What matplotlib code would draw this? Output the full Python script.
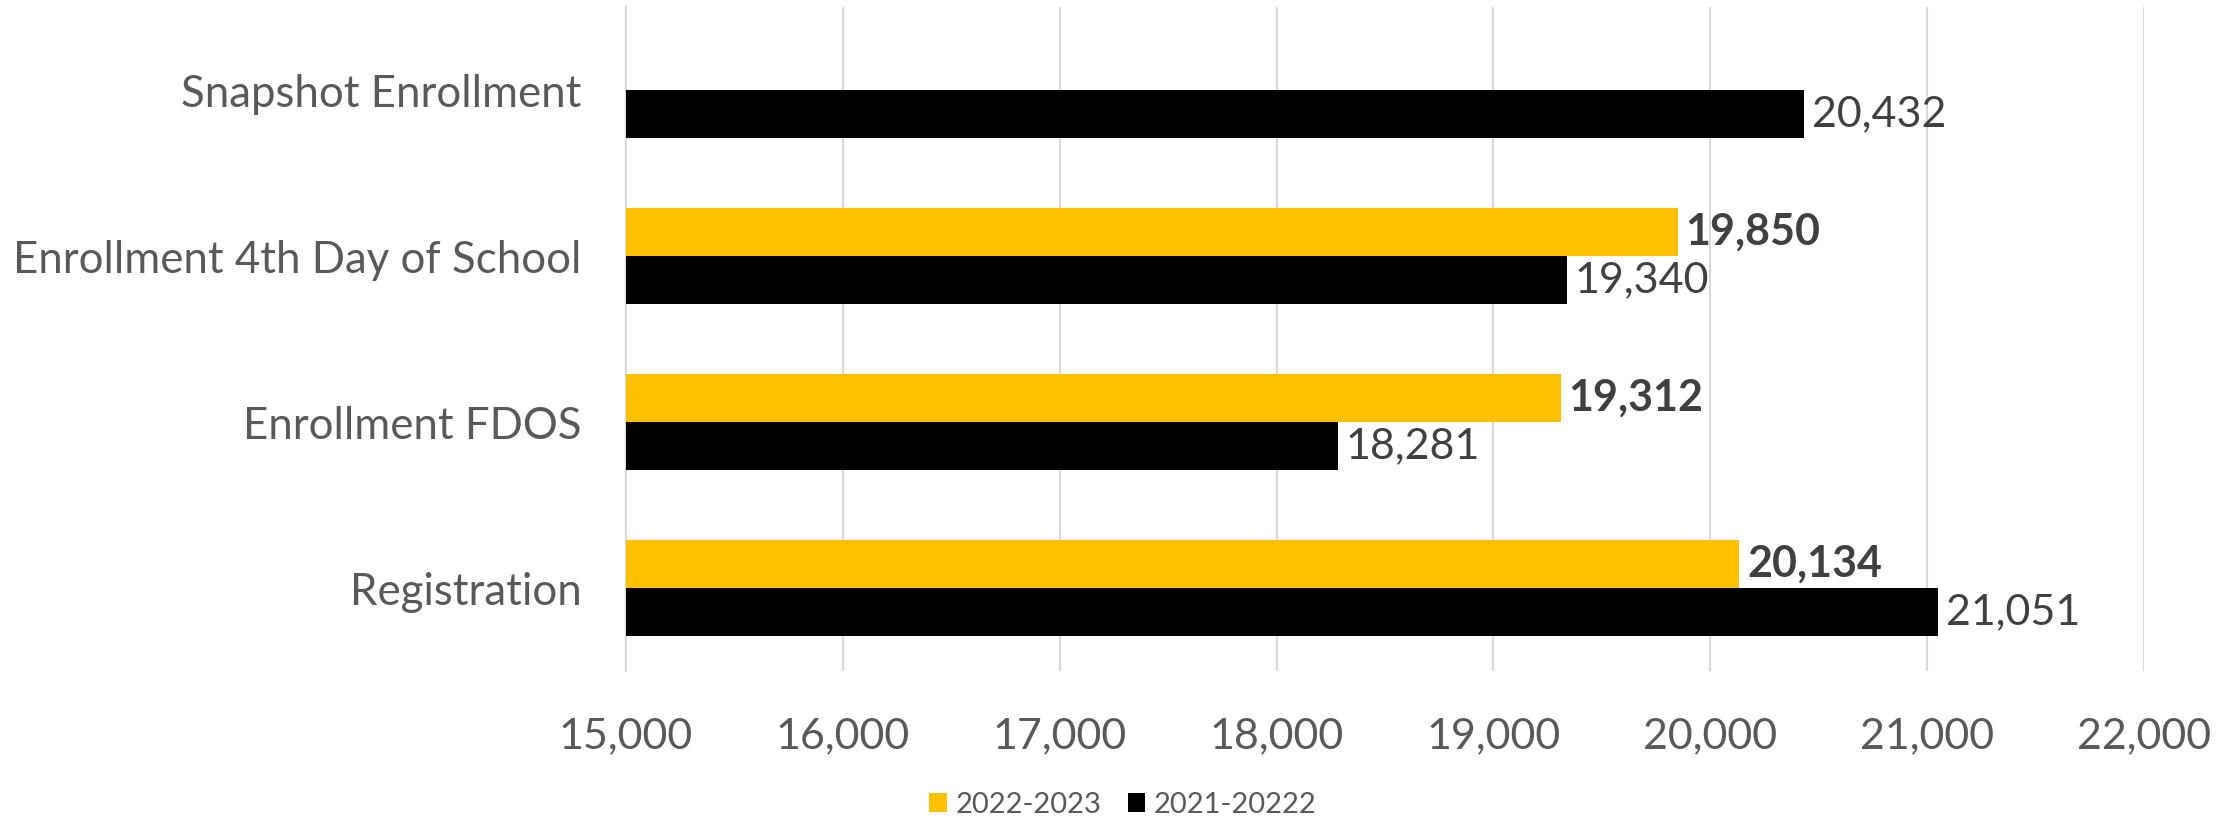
import numpy as np
import matplotlib
matplotlib.use("Agg")
import matplotlib.pyplot as plt
from matplotlib.ticker import FuncFormatter

plt.rcParams['font.family'] = ['Lato', 'DejaVu Sans']

categories = ["Snapshot Enrollment", "Enrollment 4th Day of School",
              "Enrollment FDOS", "Registration"]
series_new_label = "2022-2023"
series_old_label = "2021-20222"
values_new = [np.nan, 19850, 19312, 20134]
values_old = [20432, 19340, 18281, 21051]
x_ticks = [15000, 16000, 17000, 18000, 19000, 20000, 21000, 22000]

YELLOW = "#FFC000"
BLACK = "#000000"
TEXT = "#595959"
LABEL = "#404040"
GRID = "#D9D9D9"

fig = plt.figure(figsize=(22.31, 8.18), dpi=100)
ax = fig.add_axes([0.2806, 0.1797, 0.961 - 0.2806, 0.9914 - 0.1797])

y = np.arange(len(categories))
h = 0.29
base = x_ticks[0]
new_arr = np.array(values_new, dtype=float)
old_arr = np.array(values_old, dtype=float)

ax.barh(y - h / 2, new_arr - base, left=base, height=h, color=YELLOW,
        label=series_new_label, zorder=3)
ax.barh(y + h / 2, old_arr - base, left=base, height=h, color=BLACK,
        label=series_old_label, zorder=3)

for yi, v in zip(y, new_arr):
    if not np.isnan(v):
        ax.text(v + 35, yi - h / 2, f"{int(v):,}", va="center", ha="left",
                fontsize=31, fontweight="bold", color=LABEL, zorder=4)
for yi, v in zip(y, old_arr):
    ax.text(v + 35, yi + h / 2, f"{int(v):,}", va="center", ha="left",
            fontsize=31, color=LABEL, zorder=4)

ax.set_xlim(x_ticks[0], x_ticks[-1])
ax.set_ylim(len(categories) - 0.5, -0.5)
ax.set_xticks(x_ticks)
ax.xaxis.set_major_formatter(FuncFormatter(lambda v, p: f"{int(v):,}"))
ax.set_yticks(y)
ax.set_yticklabels(categories)
ax.tick_params(axis="y", length=0, pad=32, labelsize=31.5, labelcolor=TEXT)
ax.tick_params(axis="x", length=0, pad=33, labelsize=31, labelcolor=TEXT)

ax.grid(axis="x", color=GRID, linewidth=1.5, zorder=0)
ax.grid(axis="y", visible=False)
for s in ["top", "right", "bottom"]:
    ax.spines[s].set_visible(False)
ax.spines["left"].set_color(GRID)
ax.spines["left"].set_linewidth(1.5)

leg = fig.legend(loc="center", bbox_to_anchor=(1123 / 2231, 1 - 805 / 818),
                 ncol=2, frameon=False, fontsize=21, handlelength=0.6,
                 handleheight=0.6, handletextpad=0.3, columnspacing=0.9)
for t in leg.get_texts():
    t.set_color(TEXT)

fig.savefig("out.png", dpi=100)
